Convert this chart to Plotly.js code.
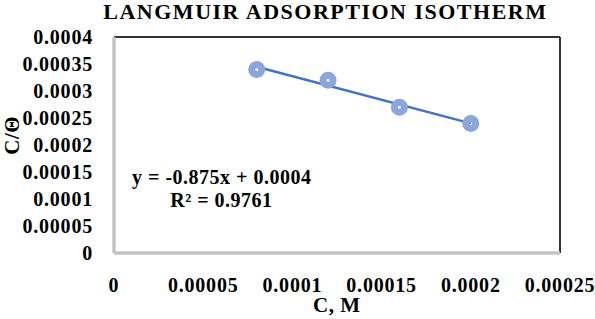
<!DOCTYPE html>
<html>
<head>
<meta charset="utf-8">
<script src="https://cdn.plot.ly/plotly-3.0.1.min.js"></script>
<style>
html,body{margin:0;padding:0;background:#fff;}
#chart{width:595px;height:319px;}
#chart .gtitle{letter-spacing:1.5px;}
#chart .xtick text,#chart .ytick text{letter-spacing:0.8px;}
#chart .annotation-text{letter-spacing:0.5px;}
</style>
</head>
<body>
<div id="chart"></div>
<script>
// Data
const concentration = [0.00008, 0.00012, 0.00016, 0.0002];
const cOverTheta = [0.00034, 0.00032, 0.00027, 0.00024];
const xTickVals = [0, 0.00005, 0.0001, 0.00015, 0.0002, 0.00025];
const xTickText = ['0', '0.00005', '0.0001', '0.00015', '0.0002', '0.00025'];
const yTickVals = [0, 0.00005, 0.0001, 0.00015, 0.0002, 0.00025, 0.0003, 0.00035, 0.0004];
const yTickText = ['0', '0.00005', '0.0001', '0.00015', '0.0002', '0.00025', '0.0003', '0.00035', '0.0004'];
const chartTitle = 'LANGMUIR ADSORPTION ISOTHERM';
const xTitle = 'C, M';
const yTitle = 'C/Θ';
const equationText = 'y = -0.875x + 0.0004';
const r2Text = 'R² = 0.9761';

// Linear trendline (least squares) from the data
const n = concentration.length;
const mx = concentration.reduce((a,b)=>a+b,0)/n;
const my = cOverTheta.reduce((a,b)=>a+b,0)/n;
let sxy=0, sxx=0;
for (let i=0;i<n;i++){ sxy += (concentration[i]-mx)*(cOverTheta[i]-my); sxx += (concentration[i]-mx)**2; }
const slope = sxy/sxx, intercept = my - slope*mx;
const trendX = [concentration[0], concentration[n-1]];
const trendY = trendX.map(x => intercept + slope*x);

const font = {family: 'Liberation Serif, Times New Roman, serif', color: '#000'};
const f = (size) => Object.assign({}, font, {size: size});

const traces = [
  {x: trendX, y: trendY, mode: 'lines', line: {color: '#4472C4', width: 2.5}, hoverinfo: 'skip', showlegend: false},
  {x: concentration, y: cOverTheta, mode: 'markers',
   marker: {symbol: 'circle-open', size: 10, color: '#8aa6dc', line: {width: 7, color: '#8aa6dc'}},
   showlegend: false}
];

const layout = {
  width: 595, height: 319,
  margin: {l: 114, r: 35, t: 37, b: 66},
  paper_bgcolor: '#fff', plot_bgcolor: '#fff',
  showlegend: false,
  title: {text: '<b>' + chartTitle + '</b>', font: f(22), xref: 'paper', x: 0.474, xanchor: 'center', yref: 'container', y: 0.966, yanchor: 'middle'},
  xaxis: {
    range: [0, 0.00025], tickvals: xTickVals, ticktext: xTickText,
    showgrid: false, zeroline: false, showline: false,
    ticks: 'outside', ticklen: 14, tickcolor: 'rgba(0,0,0,0)',
    tickfont: Object.assign(f(20), {weight: 'bold'})
  },
  yaxis: {
    range: [0, 0.0004], tickvals: yTickVals, ticktext: yTickText,
    showgrid: false, zeroline: false, showline: false,
    ticks: 'outside', ticklen: 16, tickcolor: 'rgba(0,0,0,0)',
    tickfont: Object.assign(f(20), {weight: 'bold'})
  },
  shapes: [
    {type: 'line', xref: 'paper', yref: 'paper', x0: 0, x1: 1, y0: 1, y1: 1, line: {color: '#333', width: 2}},
    {type: 'line', xref: 'paper', yref: 'paper', x0: 1, x1: 1, y0: 0, y1: 1, line: {color: '#333', width: 2}},
    {type: 'line', xref: 'paper', yref: 'paper', x0: 0, x1: 0, y0: 0, y1: 1, line: {color: '#c4c4c4', width: 3.5}},
    {type: 'line', xref: 'paper', yref: 'paper', x0: 0, x1: 1, y0: 0, y1: 0, line: {color: '#c4c4c4', width: 3.5}}
  ],
  annotations: [
    {xref: 'x', yref: 'y', x: 0.00006, y: 0.0001407, text: '<b>' + equationText + '</b>', showarrow: false, font: f(20), xanchor: 'center', yanchor: 'middle'},
    {xref: 'x', yref: 'y', x: 0.0000605, y: 0.0000981, text: '<b>' + r2Text + '</b>', showarrow: false, font: f(20), xanchor: 'center', yanchor: 'middle'},
    {xref: 'paper', yref: 'paper', x: 0.5, y: -0.243, text: '<b>' + xTitle + '</b>', showarrow: false, font: f(21), xanchor: 'center', yanchor: 'middle'},
    {xref: 'paper', yref: 'paper', x: -0.229, y: 0.546, text: '<b>' + yTitle + '</b>', showarrow: false, font: f(21), textangle: -90, xanchor: 'center', yanchor: 'middle'}
  ]
};

Plotly.newPlot('chart', traces, layout, {displayModeBar: false, staticPlot: true});
</script>
</body>
</html>
